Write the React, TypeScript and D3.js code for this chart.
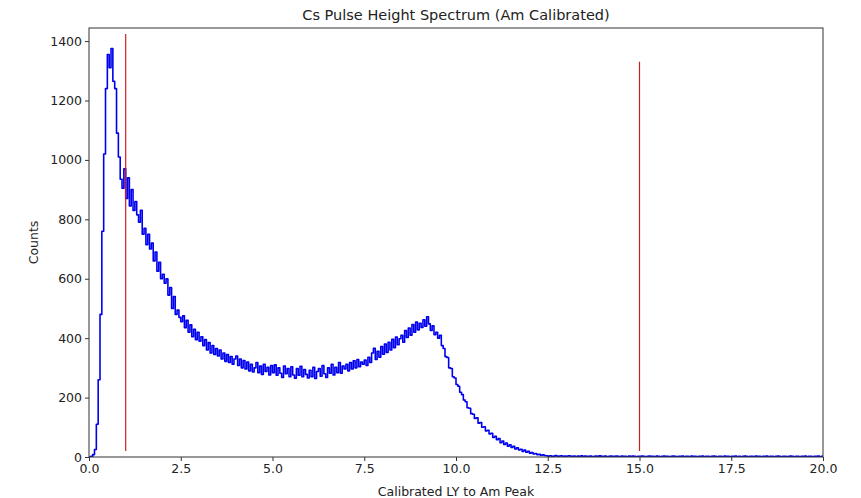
import React, { useEffect, useRef } from "react";
import * as d3 from "d3";

// Histogram: 400 bins of width 0.05 from 0 to 20
const binStart = 0;
const binWidth = 0.05;
const counts: number[] = [
  // 0.0 - 1.0
  0, 2, 8, 25, 110, 260, 480, 760, 1020, 1240,
  1355, 1310, 1375, 1265, 1240, 1090, 1010, 935, 905, 970,
  // 1.0 - 2.0
  870, 940, 845, 900, 830, 860, 815, 790, 830, 750,
  770, 715, 750, 700, 720, 660, 690, 625, 655, 600,
  // 2.0 - 3.0
  615, 585, 600, 545, 570, 500, 540, 480, 495, 470,
  455, 475, 435, 460, 420, 445, 405, 430, 395, 420,
  // 3.0 - 4.0
  390, 405, 375, 395, 360, 385, 350, 375, 345, 365,
  340, 360, 330, 350, 322, 345, 318, 338, 312, 330,
  // 4.0 - 5.0
  340, 308, 330, 300, 325, 296, 320, 290, 312, 286,
  300, 318, 284, 306, 278, 312, 288, 302, 276, 308,
  // 5.0 - 6.0
  284, 310, 275, 300, 282, 268, 306, 280, 298, 270,
  304, 276, 265, 298, 275, 305, 270, 294, 278, 266,
  // 6.0 - 7.0
  292, 270, 302, 264, 288, 298, 272, 308, 280, 268,
  300, 282, 312, 276, 302, 284, 318, 282, 306, 296,
  // 7.0 - 8.0
  312, 290, 318, 296, 324, 300, 328, 304, 320, 312,
  326, 308, 336, 318, 350, 366, 328, 356, 336, 372,
  // 8.0 - 9.0
  346, 380, 352, 386, 360, 396, 368, 404, 378, 398,
  410, 386, 426, 402, 434, 410, 446, 420, 454, 428,
  // 9.0 - 10.0
  450, 436, 462, 440, 472, 448, 426, 442, 412, 420,
  400, 410, 375, 365, 338, 335, 300, 298, 270, 266,
  // 10.0 - 11.0
  244, 238, 218, 210, 192, 186, 166, 164, 146, 144,
  130, 132, 114, 116, 100, 102, 88, 90, 78, 80,
  // 11.0 - 12.0
  66, 70, 58, 62, 48, 54, 42, 47, 36, 41,
  32, 36, 27, 31, 24, 26, 19, 23, 16, 19,
  // 12.0 - 12.5
  13, 15, 10, 12, 8, 9, 6, 7, 5, 4,
  // 12.5 - 20.0
  3, 4, 2, 3, 5, 2, 3, 4, 2, 3,
  2, 4, 3, 2, 3, 1, 3, 2, 4, 2,
  3, 2, 2, 3, 1, 2, 3, 2, 4, 2,
  2, 3, 1, 2, 3, 2, 2, 3, 2, 1,
  3, 2, 2, 1, 3, 2, 3, 2, 1, 2,
  2, 3, 2, 1, 2, 3, 2, 2, 1, 3,
  2, 1, 2, 3, 2, 2, 1, 2, 3, 2,
  1, 2, 2, 3, 1, 2, 2, 1, 3, 2,
  2, 1, 2, 2, 3, 1, 2, 2, 1, 2,
  3, 2, 1, 2, 2, 1, 3, 2, 2, 1,
  2, 2, 3, 1, 2, 1, 2, 3, 2, 1,
  2, 2, 1, 3, 2, 2, 1, 2, 2, 3,
  1, 2, 2, 1, 2, 3, 2, 1, 2, 2,
  1, 2, 3, 2, 1, 2, 2, 1, 2, 2,
  3, 1, 2, 2, 1, 2, 2, 3, 1, 2,
];

// Vertical marker lines: x position, from count, to count
const markerX = [1.0, 15.0];
const markerBottom = [20, 20];
const markerTop = [1424, 1330];

const xTicks = [0, 2.5, 5, 7.5, 10, 12.5, 15, 17.5, 20];
const yTicks = [0, 200, 400, 600, 800, 1000, 1200, 1400];
const xDomain = [0, 20];
const yDomain = [0, 1444];

const title = "Cs Pulse Height Spectrum (Am Calibrated)";
const xLabel = "Calibrated LY to Am Peak";
const yLabel = "Counts";

const W = 861;
const H = 498;
const M = { left: 89, right: 823, top: 28, bottom: 457 };
const FONT = "'DejaVu Sans', sans-serif";

export default function App() {
  const ref = useRef<SVGSVGElement>(null);

  useEffect(() => {
    document.body.style.margin = "0";
    const svg = d3.select(ref.current);
    svg.selectAll("*").remove();

    const x = d3.scaleLinear().domain(xDomain).range([M.left, M.right]);
    const y = d3.scaleLinear().domain(yDomain).range([M.bottom, M.top]);

    svg.append("rect").attr("width", W).attr("height", H).attr("fill", "#fff");

    const pts: [number, number][] = [[binStart, 0]];
    counts.forEach((c, i) => pts.push([binStart + i * binWidth, c]));
    const xEnd = binStart + counts.length * binWidth;
    pts.push([xEnd, counts[counts.length - 1]]);
    pts.push([xEnd, 0]);

    const line = d3
      .line<[number, number]>()
      .x((d) => x(d[0]))
      .y((d) => y(d[1]))
      .curve(d3.curveStepAfter);

    svg
      .append("clipPath")
      .attr("id", "plotclip")
      .append("rect")
      .attr("x", M.left)
      .attr("y", M.top)
      .attr("width", M.right - M.left)
      .attr("height", M.bottom - M.top);

    svg
      .append("path")
      .attr("d", line(pts) as string)
      .attr("fill", "none")
      .attr("stroke", "#0000ee")
      .attr("stroke-width", 1.6)
      .attr("stroke-linejoin", "round")
      .attr("clip-path", "url(#plotclip)");

    markerX.forEach((mx, i) => {
      svg
        .append("line")
        .attr("x1", x(mx))
        .attr("x2", x(mx))
        .attr("y1", y(markerBottom[i]))
        .attr("y2", y(markerTop[i]))
        .attr("stroke", "#cc1f1f")
        .attr("stroke-width", 1.2);
    });

    // spines
    svg
      .append("rect")
      .attr("x", M.left)
      .attr("y", M.top)
      .attr("width", M.right - M.left)
      .attr("height", M.bottom - M.top)
      .attr("fill", "none")
      .attr("stroke", "#333")
      .attr("stroke-width", 1);

    const xAxis = d3
      .axisBottom(x)
      .tickValues(xTicks)
      .tickFormat((d) => d3.format(".1f")(d as number))
      .tickSize(4)
      .tickPadding(3);
    const gx = svg.append("g").attr("transform", `translate(0,${M.bottom})`).call(xAxis);
    gx.select(".domain").remove();
    gx.selectAll("line").attr("stroke", "#333");
    gx.selectAll("text").attr("font-family", FONT).attr("font-size", 12.5).attr("fill", "#222");

    const yAxis = d3
      .axisLeft(y)
      .tickValues(yTicks)
      .tickFormat((d) => String(d))
      .tickSize(4)
      .tickPadding(3);
    const gy = svg.append("g").attr("transform", `translate(${M.left},0)`).call(yAxis);
    gy.select(".domain").remove();
    gy.selectAll("line").attr("stroke", "#333");
    gy.selectAll("text").attr("font-family", FONT).attr("font-size", 12.5).attr("fill", "#222");

    svg
      .append("text")
      .attr("x", (M.left + M.right) / 2)
      .attr("y", 20)
      .attr("text-anchor", "middle")
      .attr("font-family", FONT)
      .attr("font-size", 14.5)
      .attr("fill", "#222")
      .text(title);

    svg
      .append("text")
      .attr("x", (M.left + M.right) / 2)
      .attr("y", 496)
      .attr("text-anchor", "middle")
      .attr("font-family", FONT)
      .attr("font-size", 12.5)
      .attr("fill", "#222")
      .text(xLabel);

    svg
      .append("text")
      .attr("transform", `translate(38,${(M.top + M.bottom) / 2}) rotate(-90)`)
      .attr("text-anchor", "middle")
      .attr("font-family", FONT)
      .attr("font-size", 12.5)
      .attr("fill", "#222")
      .text(yLabel);
  }, []);

  return (
    <svg
      ref={ref}
      width={W}
      height={H}
      style={{ position: "absolute", left: 0, top: 0, display: "block" }}
    />
  );
}
